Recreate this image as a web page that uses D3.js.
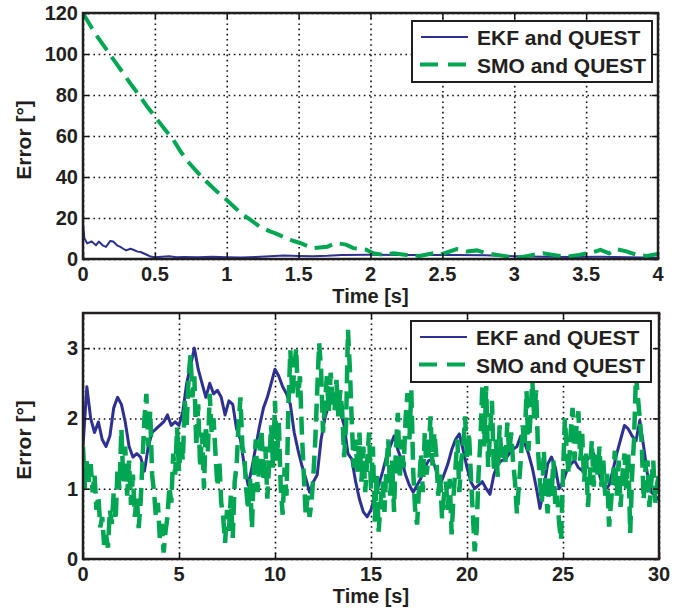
<!DOCTYPE html>
<html>
<head>
<meta charset="utf-8">
<script src="https://cdn.jsdelivr.net/npm/d3@7"></script>
<style>
body { margin: 0; background: #fff; }
text { font-family: "Liberation Sans", Arial, sans-serif; font-weight: bold; fill: #231f20; }
</style>
</head>
<body>
<div id="chart-area"></div>
<script>
// series names (legend)
var seriesNames = ["EKF and QUEST", "SMO and QUEST"];

// top panel: first 4 seconds
var topXTicks = [0, 0.5, 1, 1.5, 2, 2.5, 3, 3.5, 4];
var topYTicks = [0, 20, 40, 60, 80, 100, 120];

var topEkfTime = [0, 0.01, 0.03, 0.06, 0.09, 0.11, 0.14, 0.16, 0.19, 0.21, 0.24, 0.26, 0.28, 0.3, 0.33, 0.35, 0.38, 0.4, 0.44, 0.47,
    0.5, 0.6, 0.65, 0.7, 0.8, 0.9, 1.0, 1.1, 1.2, 1.3, 1.4, 1.5, 1.6, 1.7, 1.8, 2.0, 2.2, 2.4, 2.6, 2.8, 3.0, 3.2, 3.4, 3.6, 3.8, 4.0];
var topEkfErr = [17.4, 10, 7.6, 8.6, 6.7, 8.5, 6.5, 5.9, 8.8, 8.5, 6.5, 5.9, 5.0, 4.2, 5.0, 4.5, 3.6, 3.4, 2.2, 1.2,
    0.9, 1.3, 0.9, 1.0, 0.8, 1.1, 0.9, 0.7, 1.0, 1.4, 1.7, 1.5, 1.4, 1.6, 2.0, 2.1, 1.9, 2.0, 1.9, 1.8, 1.3, 1.1, 1.0, 1.1, 0.9, 0.6];

var topSmoTime = [0, 0.08, 0.165, 0.22, 0.28, 0.34, 0.4, 0.45, 0.51, 0.57, 0.63, 0.68, 0.74, 0.8, 0.86, 0.93, 1.0, 1.05, 1.1, 1.17,
    1.23, 1.3, 1.34, 1.44, 1.51, 1.6, 1.7, 1.76, 1.83, 1.88, 1.97, 2.02, 2.09, 2.16, 2.25, 2.34, 2.44, 2.48, 2.6, 2.67,
    2.74, 2.81, 2.88, 2.97, 3.04, 3.13, 3.2, 3.27, 3.36, 3.45, 3.55, 3.6, 3.66, 3.71, 3.78, 3.85, 3.92, 4.0];
var topSmoErr = [119.8, 110.5, 102, 96.5, 90.6, 84.6, 79, 74, 68.6, 63.2, 58, 52.3, 46.7, 42, 37.7, 33, 28.8, 25.5, 22.3, 18.8,
    15.8, 13.5, 12.5, 9.3, 7.8, 5.3, 6, 7.8, 7, 5.3, 4.5, 2.8, 2.0, 2.8, 2.0, 1.5, 2.8, 2.0, 4.8, 3.7,
    4.2, 2.8, 2.0, 1.1, 0.8, 2.0, 2.8, 2.0, 1.1, 2.0, 3.4, 4.5, 2.8, 4.8, 3.7, 2.0, 1.5, 2.4];

// bottom panel: 0..30 s
var botXTicks = [0, 5, 10, 15, 20, 25, 30];
var botYTicks = [0, 1, 2, 3];

// EKF sampled every 0.2 s
var botEkfErr = [
    1.6, 2.45, 2.0, 1.8, 1.95, 1.7, 1.6, 1.75, 2.15, 2.3,
    2.2, 1.95, 1.6, 1.45, 1.5, 1.45, 1.25, 1.6, 1.8, 1.85,
    1.9, 1.95, 2.05, 1.9, 1.95, 1.9, 2.1, 2.5, 2.75, 3.0,
    2.7, 2.5, 2.3, 2.5, 2.35, 2.4, 2.3, 2.05, 2.25, 2.2,
    1.85, 1.7, 1.33, 1.05, 1.3, 1.6, 1.9, 2.15, 2.3, 2.5,
    2.7, 2.6, 2.45, 2.35, 2.2, 1.8, 1.55, 1.33, 1.15, 0.95,
    1.1, 1.2, 1.7, 2.0, 2.2, 2.27, 2.2, 2.1, 1.9, 1.5,
    1.42, 1.1, 0.85, 0.67, 0.6, 0.7, 0.9, 1.05, 1.24, 1.45,
    1.6, 1.75, 1.55, 1.4, 1.2, 1.05, 0.95, 1.05, 1.15, 1.3,
    1.4, 1.42, 1.25, 1.05, 1.2, 1.35, 1.55, 1.7, 1.78, 1.55,
    1.3, 1.1, 1.0, 1.05, 1.1, 1.0, 0.92, 1.2, 1.35, 1.4,
    1.42, 1.5, 1.56, 1.6, 1.75, 1.65, 1.5, 1.3, 1.03, 0.72,
    1.0, 1.35, 1.45, 1.3, 1.0, 1.1, 1.26, 1.35, 1.4, 1.3,
    1.26, 1.4, 1.45, 1.5, 1.3, 1.1, 0.98, 1.05, 1.26, 1.5,
    1.7, 1.9, 1.85, 1.75, 1.68, 1.97, 1.6, 1.2, 0.95, 0.9,
    0.84];

// SMO sampled every 0.1 s
var botSmoErr = [
    1.6, 1.0, 1.4, 1.1, 1.35, 0.95, 1.2, 0.7, 0.9, 0.45,
    0.6, 0.2, 0.35, 0.16, 0.7, 0.5, 0.95, 0.55, 1.3, 1.0,
    1.85, 1.1, 1.6, 0.9, 1.4, 0.77, 1.2, 0.6, 0.9, 0.44,
    0.8, 1.4, 2.0, 2.35, 1.6, 2.1, 1.2, 0.95, 0.6, 0.8,
    0.3, 0.5, 0.09, 0.4, 0.6, 1.03, 0.8, 1.5, 1.2, 1.87,
    1.25, 1.7, 1.4, 2.25, 1.9, 2.6, 2.9, 2.3, 2.6, 1.6,
    2.2, 1.3, 1.8, 1.0, 1.9, 1.5, 2.35, 1.8, 2.0, 1.5,
    1.03, 1.4, 0.8, 0.6, 0.23, 0.7, 0.4, 0.9, 0.3, 1.1,
    1.33, 1.9, 2.3, 1.6, 1.47, 1.0, 0.7, 1.14, 0.44, 1.3,
    1.7, 0.95, 1.5, 1.85, 1.1, 1.6, 0.86, 1.4, 1.9, 1.3,
    2.25, 1.4, 1.94, 1.0, 0.63, 1.3, 0.9, 2.2, 2.97, 2.3,
    2.7, 3.0, 2.3, 2.6, 1.8, 1.2, 0.63, 0.9, 0.6, 0.8,
    1.2, 1.7, 2.4, 3.07, 2.7, 1.8, 2.2, 2.6, 2.1, 2.65,
    2.3, 2.1, 2.55, 2.03, 2.4, 2.1, 1.45, 1.9, 3.26, 2.7,
    1.94, 1.3, 1.7, 1.24, 1.8, 1.1, 1.6, 0.95, 1.4, 1.8,
    1.0, 1.6, 0.53, 1.19, 0.39, 0.8, 1.1, 0.67, 1.3, 1.7,
    0.9, 1.4, 0.67, 1.6, 2.08, 1.14, 1.7, 1.3, 2.0, 2.36,
    1.7, 2.4, 1.24, 0.7, 0.49, 1.0, 1.5, 0.95, 1.8, 1.2,
    1.5, 2.03, 1.33, 1.8, 1.47, 0.9, 1.2, 0.58, 0.9, 1.1,
    0.7, 1.14, 0.35, 0.9, 1.3, 1.7, 0.95, 1.4, 1.6, 2.03,
    1.42, 1.8, 1.2, 0.67, 0.11, 0.4, 1.2, 1.7, 2.48, 1.6,
    2.46, 1.31, 1.8, 2.25, 1.24, 1.7, 1.17, 1.9, 1.4, 1.6,
    1.38, 1.94, 1.5, 1.8, 1.38, 1.1, 0.65, 1.03, 1.4, 1.9,
    1.6, 2.39, 1.54, 2.0, 2.55, 2.0, 2.4, 1.54, 1.1, 0.8,
    1.54, 1.0, 0.65, 1.2, 0.9, 1.4, 0.74, 0.9, 0.5, 0.27,
    1.21, 2.0, 1.5, 1.21, 1.8, 2.15, 1.4, 1.9, 2.1, 1.4,
    1.78, 1.1, 1.5, 0.74, 1.2, 1.68, 1.03, 1.5, 1.2, 1.6,
    1.03, 1.4, 0.9, 1.21, 0.46, 0.8, 1.1, 1.54, 0.9, 1.4,
    0.74, 1.2, 1.5, 1.0, 1.5, 0.37, 1.2, 1.7, 2.62, 2.3,
    2.0, 1.63, 0.84, 1.3, 1.4, 0.74, 1.1, 1.4, 0.8, 1.07,
    1.2];

var blue = "#2e3192", green = "#00a651";

var svg = d3.select("#chart-area")
    .append("svg")
        .attr("width", 697)
        .attr("height", 614);

function panel(p) {
    var x = d3.scaleLinear().domain(p.xDomain).range([p.left, p.right]);
    var y = d3.scaleLinear().domain(p.yDomain).range([p.bottom, p.top]);
    var w = p.right - p.left, h = p.bottom - p.top;
    var g = svg.append("g");

    svg.append("clipPath").attr("id", "clip" + p.id)
        .append("rect").attr("x", p.left).attr("y", p.top).attr("width", w).attr("height", h);

    // dotted grid
    var gx = g.append("g")
        .attr("transform", "translate(0," + p.bottom + ")")
        .call(d3.axisBottom(x).tickValues(p.xTicks).tickSize(-h).tickFormat(""));
    var gy = g.append("g")
        .attr("transform", "translate(" + p.left + ",0)")
        .call(d3.axisLeft(y).tickValues(p.yTicks).tickSize(-w).tickFormat(""));
    [gx, gy].forEach(function(a) {
        a.select(".domain").remove();
        a.selectAll("line").attr("stroke", "#111").attr("stroke-width", 1.6).attr("stroke-dasharray", "1.6,3.6");
    });

    // lines
    var line = d3.line().x(function(d) { return x(d[0]); }).y(function(d) { return y(d[1]); });
    var lines = g.append("g").attr("clip-path", "url(#clip" + p.id + ")");
    lines.append("path").datum(p.ekf)
        .attr("fill", "none").attr("stroke", blue).attr("stroke-width", p.ekfWidth)
        .attr("stroke-linejoin", "round").attr("d", line);
    lines.append("path").datum(p.smo)
        .attr("fill", "none").attr("stroke", green).attr("stroke-width", p.smoWidth)
        .attr("stroke-dasharray", "18,8").attr("d", line);

    // inward ticks on all four sides
    var tk = 6;
    var axes = [
        g.append("g").attr("transform", "translate(0," + p.bottom + ")").call(d3.axisBottom(x).tickValues(p.xTicks).tickSize(-tk).tickFormat("")),
        g.append("g").attr("transform", "translate(0," + p.top + ")").call(d3.axisTop(x).tickValues(p.xTicks).tickSize(-tk).tickFormat("")),
        g.append("g").attr("transform", "translate(" + p.left + ",0)").call(d3.axisLeft(y).tickValues(p.yTicks).tickSize(-tk).tickFormat("")),
        g.append("g").attr("transform", "translate(" + p.right + ",0)").call(d3.axisRight(y).tickValues(p.yTicks).tickSize(-tk).tickFormat(""))
    ];
    axes.forEach(function(a) {
        a.select(".domain").remove();
        a.selectAll("line").attr("stroke", "#111").attr("stroke-width", 1.5);
    });

    // frame
    g.append("rect").attr("x", p.left).attr("y", p.top).attr("width", w).attr("height", h)
        .attr("fill", "none").attr("stroke", "#231f20").attr("stroke-width", 2.5);

    // tick labels
    g.selectAll(".xl").data(p.xTicks).enter().append("text")
        .attr("x", function(d) { return x(d); }).attr("y", p.bottom + 22)
        .attr("text-anchor", "middle").attr("font-size", "20px")
        .text(function(d) { return d; });
    g.selectAll(".yl").data(p.yTicks).enter().append("text")
        .attr("x", p.left - 5).attr("y", function(d) { return y(d); })
        .attr("dy", "0.35em").attr("text-anchor", "end").attr("font-size", "20px")
        .text(function(d) { return d; });

    // axis labels
    g.append("text").attr("x", (p.left + p.right) / 2).attr("y", p.bottom + 44)
        .attr("text-anchor", "middle").attr("font-size", "20px").text("Time [s]");
    g.append("text").attr("transform", "rotate(-90)")
        .attr("x", -(p.top + p.bottom) / 2 - 4).attr("y", 31)
        .attr("text-anchor", "middle").attr("font-size", "21px").text("Error [°]");

    // legend
    var lg = g.append("g").attr("transform", "translate(" + p.legX + "," + p.legY + ")");
    lg.append("rect").attr("width", 240).attr("height", 61)
        .attr("fill", "#fff").attr("stroke", "#231f20").attr("stroke-width", 2);
    lg.append("line").attr("x1", 9).attr("x2", 56).attr("y1", 16).attr("y2", 16)
        .attr("stroke", blue).attr("stroke-width", 2);
    lg.append("line").attr("x1", 8).attr("x2", 56).attr("y1", 43.5).attr("y2", 43.5)
        .attr("stroke", green).attr("stroke-width", 4).attr("stroke-dasharray", "18,10");
    lg.selectAll(".lt").data(seriesNames).enter().append("text")
        .attr("x", 65).attr("y", function(d, i) { return 24 + i * 27.5; })
        .attr("font-size", "21px").text(function(d) { return d; });
}

panel({
    id: 1, left: 83, right: 658, top: 13, bottom: 259,
    xDomain: [0, 4], yDomain: [0, 120], xTicks: topXTicks, yTicks: topYTicks,
    ekf: topEkfTime.map(function(t, i) { return [t, topEkfErr[i]]; }),
    smo: topSmoTime.map(function(t, i) { return [t, topSmoErr[i]]; }),
    ekfWidth: 2, smoWidth: 4, legX: 412, legY: 21
});

panel({
    id: 2, left: 83, right: 659, top: 313, bottom: 559,
    xDomain: [0, 30], yDomain: [0, 3.5], xTicks: botXTicks, yTicks: botYTicks,
    ekf: botEkfErr.map(function(v, i) { return [i * 0.2, v]; }),
    smo: botSmoErr.map(function(v, i) { return [i * 0.1, v]; }),
    ekfWidth: 3, smoWidth: 4.5, legX: 411, legY: 321
});
</script>
</body>
</html>
